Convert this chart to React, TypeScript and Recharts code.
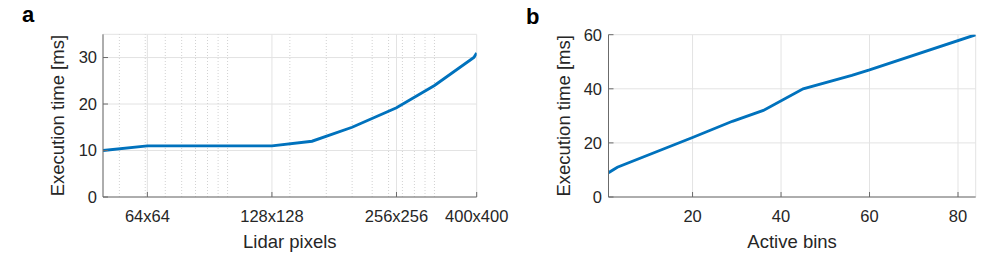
import { LineChart, Line, XAxis, YAxis, CartesianGrid, ReferenceLine } from "recharts";

// panel a: execution time vs lidar resolution (x = total pixel count, log scale)
const lidarPixelCounts = [2500, 4096, 16384, 25600, 40000, 65536, 100000, 155000, 160000];
const lidarTimes = [10, 11, 11, 12, 15, 19.2, 24, 30, 31];
const lidarTicks = [4096, 16384, 65536, 160000];
const lidarTickLabels = ["64x64", "128x128", "256x256", "400x400"];
const lidarMinorTicks = [
  3000, 4000, 5000, 6000, 7000, 8000, 9000, 10000,
  20000, 30000, 40000, 50000, 60000, 70000, 80000, 90000, 100000,
];
const lidarTimeTicks = [0, 10, 20, 30];

// panel b: execution time vs number of active bins
const activeBins = [1, 3, 20, 29, 36, 45, 56, 60, 84];
const binTimes = [9, 11, 22, 28, 32, 40, 45, 47, 60];
const binTicks = [20, 40, 60, 80];
const binTimeTicks = [0, 20, 40, 60];

const BLUE = "#0072BD";
const TEXT = "#262626";
const BOX = "#6b6b6b";
const GRID = "#e3e3e3";
const MINOR = "#d2d2d2";
const FONT = "'Liberation Sans', Arial, Helvetica, sans-serif";

const tickStyle = { fontSize: 16.5, fill: TEXT, fontFamily: FONT };
const axisLabel = { fontSize: 18.5, fill: TEXT, fontFamily: FONT };

const lidarData = lidarPixelCounts.map((px, i) => ({ px, time: lidarTimes[i] }));
const binData = activeBins.map((bins, i) => ({ bins, time: binTimes[i] }));

const lidarDomain: [number, number] = [2500, 160000];

function PanelLetter({ text, left, top }: { text: string; left: number; top: number }) {
  return (
    <div
      style={{
        position: "absolute",
        left,
        top,
        fontFamily: FONT,
        fontWeight: 700,
        fontSize: 22,
        lineHeight: "22px",
        color: "#000",
      }}
    >
      {text}
    </div>
  );
}

export default function App() {
  return (
    <div style={{ position: "absolute", left: 0, top: 0, width: 981, height: 253, background: "#fff" }}>
      <div style={{ position: "absolute", left: 0, top: 0 }}>
        <LineChart
          width={520}
          height={253}
          data={lidarData}
          margin={{ top: 34.3, right: 43.3, bottom: 0, left: 12 }}
        >
          <CartesianGrid stroke={GRID} />
          {lidarMinorTicks.map((v) => (
            <ReferenceLine key={v} x={v} stroke={MINOR} strokeDasharray="1 2" />
          ))}
          <XAxis
            xAxisId="minorBottom"
            type="number"
            scale="log"
            domain={lidarDomain}
            allowDataOverflow
            ticks={lidarMinorTicks}
            interval={0}
            height={0}
            axisLine={false}
            tick={false}
            tickSize={-3}
            tickLine={{ stroke: BOX }}
          />
          <XAxis
            dataKey="px"
            type="number"
            scale="log"
            domain={lidarDomain}
            allowDataOverflow
            ticks={lidarTicks}
            interval={0}
            tickFormatter={(v: number) => lidarTickLabels[lidarTicks.indexOf(v)]}
            height={56}
            tickSize={-5}
            tickMargin={18}
            axisLine={{ stroke: BOX }}
            tickLine={{ stroke: BOX }}
            tick={tickStyle}
            label={{ value: "Lidar pixels", position: "insideBottom", offset: 5.5, ...axisLabel }}
          />
          <XAxis
            xAxisId="minorTop"
            orientation="top"
            type="number"
            scale="log"
            domain={lidarDomain}
            allowDataOverflow
            ticks={lidarMinorTicks}
            interval={0}
            height={0}
            axisLine={false}
            tick={false}
            tickSize={-3}
            tickLine={{ stroke: BOX }}
          />
          <XAxis
            xAxisId="top"
            orientation="top"
            type="number"
            scale="log"
            domain={lidarDomain}
            allowDataOverflow
            ticks={lidarTicks}
            interval={0}
            height={0}
            tick={false}
            tickSize={-5}
            axisLine={{ stroke: BOX }}
            tickLine={{ stroke: BOX }}
          />
          <YAxis
            type="number"
            domain={[0, 35]}
            allowDataOverflow
            ticks={lidarTimeTicks}
            interval={0}
            width={91}
            tickSize={-5}
            tickMargin={11}
            axisLine={{ stroke: BOX }}
            tickLine={{ stroke: BOX }}
            tick={tickStyle}
            label={{ value: "Execution time [ms]", angle: -90, position: "center", ...axisLabel }}
          />
          <YAxis
            yAxisId="right"
            orientation="right"
            type="number"
            domain={[0, 35]}
            allowDataOverflow
            ticks={lidarTimeTicks}
            interval={0}
            width={0}
            tick={false}
            tickSize={-5}
            axisLine={{ stroke: BOX }}
            tickLine={{ stroke: BOX }}
          />
          <Line
            dataKey="time"
            type="linear"
            stroke={BLUE}
            strokeWidth={2.9}
            dot={false}
            isAnimationActive={false}
          />
        </LineChart>
      </div>

      <div style={{ position: "absolute", left: 490, top: 0 }}>
        <LineChart
          width={491}
          height={253}
          data={binData}
          margin={{ top: 34.7, right: 5.3, bottom: 0, left: 28.5 }}
        >
          <CartesianGrid stroke={GRID} />
          <XAxis
            dataKey="bins"
            type="number"
            domain={[1, 84]}
            allowDataOverflow
            ticks={binTicks}
            interval={0}
            height={56}
            tickSize={-5}
            tickMargin={18}
            axisLine={{ stroke: BOX }}
            tickLine={{ stroke: BOX }}
            tick={tickStyle}
            label={{ value: "Active bins", position: "insideBottom", offset: 5.5, ...axisLabel }}
          />
          <XAxis
            xAxisId="top"
            orientation="top"
            type="number"
            domain={[1, 84]}
            allowDataOverflow
            ticks={binTicks}
            interval={0}
            height={0}
            tick={false}
            tickSize={-5}
            axisLine={{ stroke: BOX }}
            tickLine={{ stroke: BOX }}
          />
          <YAxis
            type="number"
            domain={[0, 60]}
            allowDataOverflow
            ticks={binTimeTicks}
            interval={0}
            width={90}
            tickSize={-5}
            tickMargin={11.5}
            axisLine={{ stroke: BOX }}
            tickLine={{ stroke: BOX }}
            tick={tickStyle}
            label={{ value: "Execution time [ms]", angle: -90, position: "center", ...axisLabel }}
          />
          <YAxis
            yAxisId="right"
            orientation="right"
            type="number"
            domain={[0, 60]}
            allowDataOverflow
            ticks={binTimeTicks}
            interval={0}
            width={0}
            tick={false}
            tickSize={-5}
            axisLine={{ stroke: BOX }}
            tickLine={{ stroke: BOX }}
          />
          <Line
            dataKey="time"
            type="linear"
            stroke={BLUE}
            strokeWidth={2.9}
            dot={false}
            isAnimationActive={false}
          />
        </LineChart>
      </div>

      <PanelLetter text="a" left={22} top={4} />
      <PanelLetter text="b" left={526} top={6} />
    </div>
  );
}
